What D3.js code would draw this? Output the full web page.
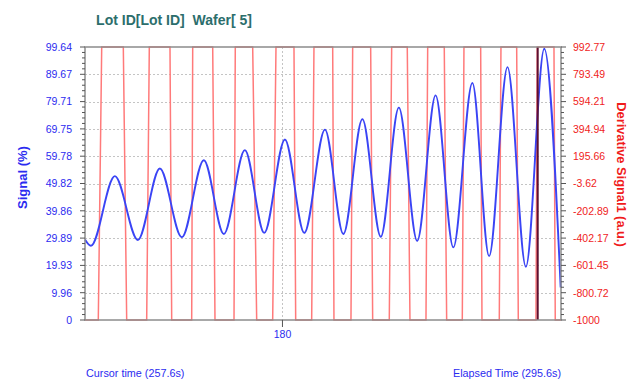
<!DOCTYPE html>
<html>
<head>
<meta charset="utf-8">
<script src="https://cdn.jsdelivr.net/npm/d3@7"></script>
<style>
  body { margin: 0; background: #fff; }
  svg { display: block; font-family: "Liberation Sans", Arial, sans-serif; }
</style>
</head>
<body>
<div id="chart"></div>
<script>
const title = 'Lot ID[Lot ID]  Wafer[ 5]';
const leftTicks = [0, 9.96, 19.93, 29.89, 39.86, 49.82, 59.78, 69.75, 79.71, 89.67, 99.64];
const rightTicks = [-1000, -800.72, -601.45, -402.17, -202.89, -3.62, 195.66, 394.94, 594.21, 793.49, 992.77];
const xTicks = [180];
const cursorTime = 257.6;
const elapsedTime = 295.6;

// signal (%) : [time s, value]
const signal = [
  [120.0, 29.4], [121.8, 27.1], [129.1, 52.5], [136.1, 29.2], [142.8, 55.3],
  [149.5, 30.2], [156.2, 58.3], [162.3, 31.4], [168.7, 62.0], [174.6, 31.8],
  [180.9, 65.9], [186.8, 31.8], [193.1, 69.5], [198.7, 31.4], [204.5, 73.3],
  [210.1, 30.4], [215.6, 77.5], [221.2, 28.9], [226.8, 82.0], [232.2, 26.5],
  [238.0, 86.5], [243.1, 23.3], [248.7, 92.3], [254.3, 19.4], [259.9, 99.0],
  [264.9, 11.9]
];

// derivative signal1 (a.u.) : [time s, value]
const deriv = [
  [120.0, -1000], [124.05, -1000], [125.09, 992.77], [131.67, 992.77], [132.70, -1000],
  [138.79, -1000], [139.59, 992.77], [145.89, 992.77], [146.41, -1000],
  [152.50, -1000], [152.81, 992.77], [158.90, 992.77], [159.60, -1000],
  [165.39, -1000], [165.78, 992.77], [171.08, 992.77], [172.30, -1000],
  [177.17, -1000], [178.18, 992.77], [183.66, 992.77], [184.18, -1000],
  [189.05, -1000], [189.75, 992.77], [195.45, 992.77], [195.84, -1000],
  [201.02, -1000], [201.54, 992.77], [207.02, 992.77], [207.63, -1000],
  [212.69, -1000], [213.42, 992.77], [218.17, 992.77], [218.99, -1000],
  [223.87, -1000], [224.39, 992.77], [229.44, 992.77], [230.17, -1000],
  [234.93, -1000], [235.44, 992.77], [240.53, 992.77], [240.93, -1000],
  [246.20, -1000], [246.71, 992.77], [251.50, 992.77], [251.99, -1000],
  [257.37, -1000], [257.77, 992.77], [262.86, 992.77], [263.25, -1000],
  [265.0, -1000]
];

const width = 629, height = 381;
const margin = { top: 47, right: 68, bottom: 61, left: 85 };
const iw = width - margin.left - margin.right;
const ih = height - margin.top - margin.bottom;

const blue = '#2b2bf0';
const red = '#f01c1c';
const font = '"Liberation Sans", Arial, sans-serif';

const x = d3.scaleLinear().domain([120, 265]).range([0, iw]);
const y = d3.scaleLinear().domain([0, 99.64]).range([ih, 0]);
const y2 = d3.scaleLinear().domain([-1000, 992.77]).range([ih, 0]);

const svgRoot = d3.select('#chart').append('svg')
  .attr('width', width).attr('height', height);

svgRoot.append('text')
  .attr('x', 174).attr('y', 25)
  .attr('text-anchor', 'middle')
  .attr('font-size', 14).attr('font-weight', 'bold')
  .attr('fill', '#2c6e6c')
  .style('white-space', 'pre')
  .text(title);

const svg = svgRoot.append('g').attr('transform', `translate(${margin.left},${margin.top})`);

// grid
const grid = svg.append('g').attr('stroke', '#c4c4c4').attr('stroke-dasharray', '2,2').attr('stroke-width', 1);
grid.selectAll('line.h').data(leftTicks.slice(1, -1)).join('line')
  .attr('x1', 0).attr('x2', iw)
  .attr('y1', (d) => Math.round(y(d)) + 0.5).attr('y2', (d) => Math.round(y(d)) + 0.5);
grid.selectAll('line.v').data(xTicks).join('line')
  .attr('y1', 0).attr('y2', ih)
  .attr('x1', (d) => Math.round(x(d)) + 0.5).attr('x2', (d) => Math.round(x(d)) + 0.5);

// derivative square wave
svg.append('path')
  .datum(deriv)
  .attr('fill', 'none')
  .attr('stroke', '#ff7a7a')
  .attr('stroke-width', 1.5)
  .attr('d', d3.line().x((d) => x(d[0])).y((d) => y2(d[1])));

// signal
svg.append('path')
  .datum(signal)
  .attr('fill', 'none')
  .attr('stroke', '#3a44f5')
  .attr('stroke-width', 1.9)
  .attr('d', d3.line().curve(d3.curveMonotoneX).x((d) => x(d[0])).y((d) => y(d[1])));

// cursor
svg.append('line')
  .attr('x1', x(cursorTime) + 1).attr('x2', x(cursorTime) + 1)
  .attr('y1', 0).attr('y2', ih)
  .attr('stroke', '#5e1030').attr('stroke-width', 2);

// frame
svg.append('rect')
  .attr('x', 0).attr('y', 0).attr('width', iw).attr('height', ih)
  .attr('fill', 'none').attr('stroke', '#8c8c8c').attr('stroke-width', 1.5);

// left axis
const minorL = d3.range(0, 51).map((i) => 99.64 * i / 50);
svg.append('g').selectAll('line').data(minorL).join('line')
  .attr('x1', (d, i) => i % 5 === 0 ? -5 : -3).attr('x2', 0)
  .attr('y1', (d) => y(d)).attr('y2', (d) => y(d))
  .attr('stroke', '#555').attr('stroke-width', 1);
const leftAxis = svg.append('g')
  .call(d3.axisLeft(y).tickValues(leftTicks).tickSize(0).tickPadding(13).tickFormat((d) => String(d)));
leftAxis.select('.domain').remove();
leftAxis.selectAll('text').attr('fill', blue).attr('font-size', 10.5).attr('font-family', font);

// right axis
const minorR = d3.range(0, 51).map((i) => -1000 + 1992.77 * i / 50);
svg.append('g').selectAll('line').data(minorR).join('line')
  .attr('x1', iw).attr('x2', (d, i) => iw + (i % 5 === 0 ? 5 : 3))
  .attr('y1', (d) => y2(d)).attr('y2', (d) => y2(d))
  .attr('stroke', '#555').attr('stroke-width', 1);
const rightAxis = svg.append('g').attr('transform', `translate(${iw},0)`)
  .call(d3.axisRight(y2).tickValues(rightTicks).tickSize(0).tickPadding(12).tickFormat((d) => String(d)));
rightAxis.select('.domain').remove();
rightAxis.selectAll('text').attr('fill', red).attr('font-size', 10.5).attr('font-family', font);

// bottom axis
const bottomAxis = svg.append('g').attr('transform', `translate(0,${ih})`)
  .call(d3.axisBottom(x).tickValues(xTicks).tickSize(7).tickPadding(4).tickFormat(d3.format('d')));
bottomAxis.select('.domain').remove();
bottomAxis.selectAll('line').attr('stroke', '#555');
bottomAxis.selectAll('text').attr('fill', blue).attr('font-size', 10.5).attr('font-family', font);

// axis titles
svgRoot.append('text')
  .attr('transform', `translate(27,${margin.top + ih / 2 - 6}) rotate(-90)`)
  .attr('text-anchor', 'middle')
  .attr('font-size', 13).attr('font-weight', 'bold').attr('fill', blue)
  .text('Signal (%)');
svgRoot.append('text')
  .attr('transform', `translate(616.5,${margin.top + ih / 2 - 9}) rotate(90)`)
  .attr('text-anchor', 'middle')
  .attr('font-size', 12.8).attr('font-weight', 'bold').attr('fill', red)
  .text('Derivative Signal1 (a.u.)');

// footer
svgRoot.append('text')
  .attr('x', margin.left + 1).attr('y', 377)
  .attr('font-size', 10.8).attr('fill', blue)
  .text(`Cursor time (${cursorTime}s)`);
svgRoot.append('text')
  .attr('x', margin.left + iw).attr('y', 377)
  .attr('text-anchor', 'end')
  .attr('font-size', 10.8).attr('fill', blue)
  .text(`Elapsed Time (${elapsedTime}s)`);
</script>
</body>
</html>
